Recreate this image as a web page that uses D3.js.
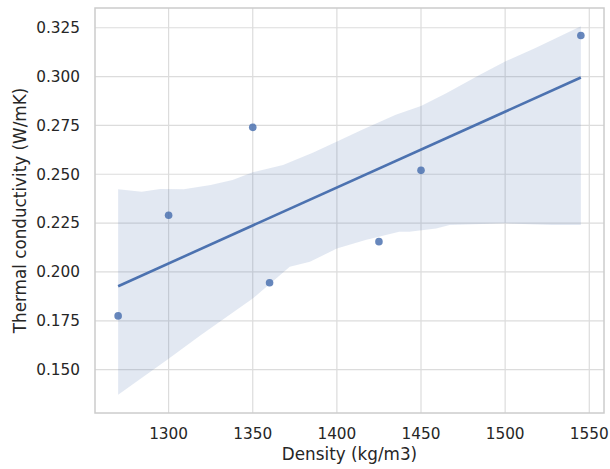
<!DOCTYPE html>
<html>
<head>
<meta charset="utf-8">
<script src="https://cdn.jsdelivr.net/npm/d3@7"></script>
<style>
  body { margin: 0; background: #fff; }
  text { font-family: "DejaVu Sans", sans-serif; fill: #262626; }
</style>
</head>
<body>
<div id="chart"></div>
<script>
  // measured points
  var density = [1270, 1300, 1350, 1360, 1425, 1450, 1545];
  var conductivity = [0.1775, 0.229, 0.274, 0.1945, 0.2155, 0.252, 0.321];

  // regression line ends
  var fitX = [1270, 1545];
  var fitY = [0.1927, 0.2995];

  // confidence band edges
  var upperX = [1270, 1284, 1295, 1309, 1325, 1338, 1350, 1368, 1386, 1402, 1415, 1435, 1450, 1465, 1485, 1500, 1518, 1545];
  var upperY = [0.2423, 0.2411, 0.2424, 0.2423, 0.2445, 0.2471, 0.2510, 0.2548, 0.2612, 0.2675, 0.2728, 0.2805, 0.2850, 0.2915, 0.3009, 0.3077, 0.3146, 0.3257];
  var lowerX = [1270, 1300, 1319, 1350, 1372, 1384, 1400, 1417, 1437, 1443, 1459, 1467, 1500, 1528, 1545];
  var lowerY = [0.1372, 0.1556, 0.1676, 0.1864, 0.2026, 0.2052, 0.2120, 0.2163, 0.2206, 0.2206, 0.2223, 0.2240, 0.2249, 0.2240, 0.2240];

  var xTicks = [1300, 1350, 1400, 1450, 1500, 1550];
  var yTicks = [0.150, 0.175, 0.200, 0.225, 0.250, 0.275, 0.300, 0.325];

  var width = 610, height = 469;
  var margin = {top: 8, right: 6, bottom: 56, left: 95};
  var blue = "#4c72b0";

  var svg = d3.select("#chart")
              .append("svg")
              .attr("width", width)
              .attr("height", height);

  var x = d3.scaleLinear()
            .domain([1256.25, 1558.75])
            .range([margin.left, width - margin.right]);

  var y = d3.scaleLinear()
            .domain([0.1278, 0.3351])
            .range([height - margin.bottom, margin.top]);

  // grid
  svg.append("g")
     .selectAll("line")
     .data(xTicks)
     .enter()
     .append("line")
     .attr("x1", function(d) { return x(d); })
     .attr("x2", function(d) { return x(d); })
     .attr("y1", margin.top)
     .attr("y2", height - margin.bottom)
     .attr("stroke", "#dcdcdc")
     .attr("stroke-width", 1.2);

  svg.append("g")
     .selectAll("line")
     .data(yTicks)
     .enter()
     .append("line")
     .attr("y1", function(d) { return y(d); })
     .attr("y2", function(d) { return y(d); })
     .attr("x1", margin.left)
     .attr("x2", width - margin.right)
     .attr("stroke", "#dcdcdc")
     .attr("stroke-width", 1.2);

  // band
  var bandPts = upperX.map(function(d, i) { return [d, upperY[i]]; });
  var lowPts = lowerX.map(function(d, i) { return [d, lowerY[i]]; }).reverse();
  var band = d3.line()
               .x(function(d) { return x(d[0]); })
               .y(function(d) { return y(d[1]); });

  svg.append("path")
     .attr("d", band(bandPts.concat(lowPts)) + "Z")
     .attr("fill", blue)
     .attr("fill-opacity", 0.16);

  // regression line
  svg.append("line")
     .attr("x1", x(fitX[0]))
     .attr("y1", y(fitY[0]))
     .attr("x2", x(fitX[1]))
     .attr("y2", y(fitY[1]))
     .attr("stroke", blue)
     .attr("stroke-width", 2.6);

  // points
  svg.append("g")
     .selectAll("circle")
     .data(density)
     .enter()
     .append("circle")
     .attr("cx", function(d) { return x(d); })
     .attr("cy", function(d, i) { return y(conductivity[i]); })
     .attr("r", 3.8)
     .attr("fill", blue)
     .attr("fill-opacity", 0.85);

  // frame
  svg.append("rect")
     .attr("x", margin.left)
     .attr("y", margin.top)
     .attr("width", width - margin.left - margin.right)
     .attr("height", height - margin.top - margin.bottom)
     .attr("fill", "none")
     .attr("stroke", "#cccccc")
     .attr("stroke-width", 1.5);

  // tick labels
  svg.append("g")
     .selectAll("text")
     .data(xTicks)
     .enter()
     .append("text")
     .attr("x", function(d) { return x(d); })
     .attr("y", 439)
     .attr("text-anchor", "middle")
     .style("font-size", "15.3px")
     .text(function(d) { return d; });

  svg.append("g")
     .selectAll("text")
     .data(yTicks)
     .enter()
     .append("text")
     .attr("x", 80)
     .attr("y", function(d) { return y(d); })
     .attr("dy", "0.35em")
     .attr("text-anchor", "end")
     .style("font-size", "15.3px")
     .text(function(d) { return d3.format(".3f")(d); });

  // axis titles
  svg.append("text")
     .attr("x", (margin.left + width - margin.right) / 2)
     .attr("y", 460)
     .attr("text-anchor", "middle")
     .style("font-size", "16.8px")
     .text("Density (kg/m3)");

  svg.append("text")
     .attr("transform", "translate(26," + (margin.top + height - margin.bottom) / 2 + ") rotate(-90)")
     .attr("text-anchor", "middle")
     .style("font-size", "16.8px")
     .text("Thermal conductivity (W/mK)");
</script>
</body>
</html>
